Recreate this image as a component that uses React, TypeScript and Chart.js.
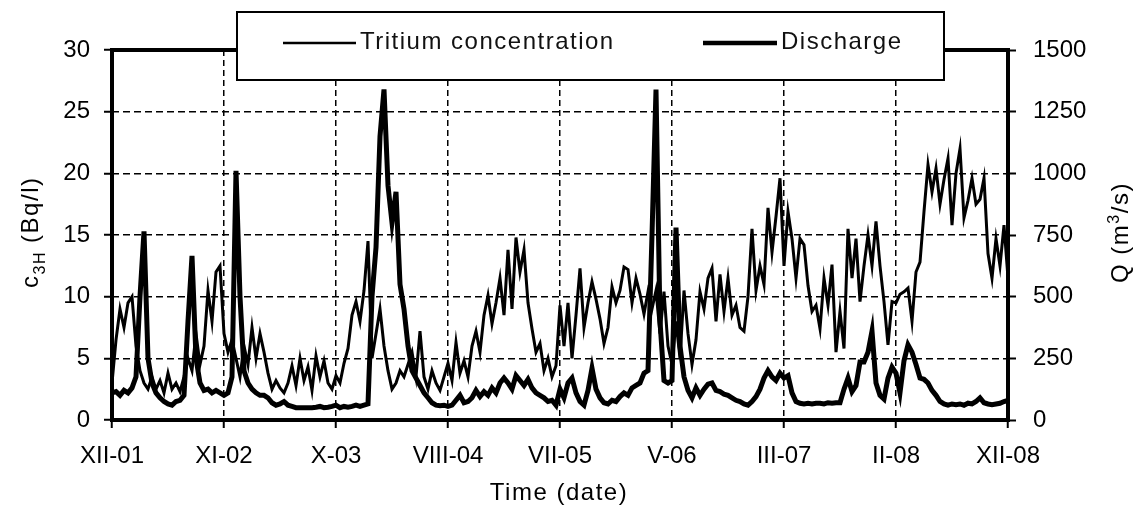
import React, { useEffect, useRef } from "react";
import { Chart, registerables } from "chart.js";

Chart.register(...registerables);

const FONT = "'Liberation Sans', Arial, Helvetica, sans-serif";

// x tick labels (one every 28 samples)
const xTickLabels = ["XII-01", "XI-02", "X-03", "VIII-04", "VII-05", "V-06", "III-07", "II-08", "XII-08"];
const samplesPerTick = 28;

// Tritium concentration (Bq/l), left axis
const tritium = [
  3, 6.5, 9, 7.5, 9.5, 10, 6, 4, 3, 2.5,
  3.5, 2.5, 3.2, 2.2, 3.8, 2.5, 3, 2.3, 3.5, 5,
  4, 7, 4.5, 6, 10.5, 8, 12, 12.5, 7, 5.5,
  6.5, 5, 3.5, 6, 4.5, 7.5, 5, 7, 5.5, 3.8,
  2.5, 3.2, 2.6, 2.2, 3, 4.4, 2.8, 5, 3.2, 4.3,
  2.4, 5.2, 3.5, 4.8, 3.0, 2.5, 3.6, 3.0, 4.6, 5.8,
  8.5, 9.6, 8.0, 10.5, 14.5, 5, 7, 9, 6, 4,
  2.5, 3, 4, 3.5, 4.5, 5.5, 3.5, 7.2, 3.5, 2.5,
  4, 3, 2.4, 3.5, 4.6, 3.2, 6.3, 3.8, 4.8, 3.5,
  6, 7.2, 5.5, 8.5, 10.1, 7.8, 9.5, 11.5, 8.5, 13.8,
  9, 14.8, 12, 13.8, 9.5, 7.4, 5.5, 6.2, 4, 5,
  3.5, 4.4, 9.3, 6, 9.5, 5, 8.5, 12.3, 7.5, 9.5,
  11.2, 9.8, 8.2, 6.2, 7.5, 10.8, 9.5, 10.5, 12.4, 12.2,
  9.5, 11.5, 10.2, 8.6, 10.4, 9, 10.5, 7, 10.4, 6,
  4.5, 8, 5, 10.5, 7, 4.5, 6.5, 10.4, 9, 11.5,
  12.3, 8, 11.8, 8.8, 11.5, 8.5, 9.3, 7.5, 7.2, 10,
  15.5, 10.5, 12.5, 11, 17.2, 13.6, 16.5, 19.6, 12.5, 16.9,
  14.7, 11.5, 14.7, 14.2, 10.9, 8.8, 9.3, 7.4, 11.5, 9.3,
  12.6, 5.5, 8.8, 5.8, 15.5, 11.5, 14.7, 9.6, 12.5, 15,
  12.5, 16.1, 12.5, 9.6, 6.1, 9.6, 9.5, 10.2, 10.4, 10.7,
  8.0, 12, 12.8, 16.9, 20.7, 18.5, 20.4, 17.5, 19.5, 21.2,
  15.8, 20, 22, 16.4, 17.8, 19.6, 17.5, 17.9, 19.6, 13.5,
  11.5, 14.7, 12.5, 15.8, 11.5,
];

// Discharge (m3/s), right axis
const discharge = [
  110, 115, 100, 120, 110, 130, 175, 500, 765, 250,
  150, 110, 90, 75, 65, 60, 75, 80, 100, 400,
  665, 250, 150, 120, 125, 110, 120, 110, 100, 110,
  175, 1010, 500, 200, 150, 125, 110, 100, 100, 90,
  70, 60, 65, 75, 60, 55, 50, 50, 50, 50,
  50, 52, 55, 50, 52, 55, 60, 50, 55, 52,
  55, 60, 55, 60, 65, 500, 700, 1150, 1340, 950,
  800, 925, 550, 450, 300, 200, 170, 140, 110, 90,
  70, 60, 58, 60, 55, 60, 80, 100, 70, 75,
  90, 120, 95, 115, 100, 130, 110, 150, 170, 150,
  125, 180, 160, 140, 165, 130, 110, 100, 90, 75,
  80, 60, 125, 90, 150, 170, 110, 75, 60, 120,
  210, 125, 90, 70, 65, 80, 75, 95, 110, 100,
  130, 140, 150, 190, 200, 750, 1340, 400, 160, 150,
  160, 780, 300, 175, 120, 90, 130, 100, 125, 145,
  150, 120, 115, 105, 100, 90, 80, 75, 65, 60,
  75, 95, 125, 170, 200, 175, 160, 190, 170, 180,
  110, 75, 68, 65, 68, 65, 68, 68, 65, 70,
  68, 70, 70, 125, 170, 115, 140, 235, 235, 275,
  360, 150, 100, 85, 170, 215, 190, 110, 240, 305,
  275, 225, 170, 165, 150, 120, 100, 75, 65, 60,
  65, 62, 65, 60, 68, 65, 75, 90, 70, 65,
  62, 65, 68, 75, 80,
];

const overlayPlugin = {
  id: "overlay",
  afterDraw(chart: any) {
    const { ctx, chartArea: a } = chart;
    ctx.save();
    ctx.lineJoin = "miter";
    ctx.lineCap = "butt";
    // plot frame
    ctx.strokeStyle = "#000";
    ctx.lineWidth = 4;
    ctx.strokeRect(a.left, a.top, a.right - a.left, a.bottom - a.top);

    // legend box
    ctx.fillStyle = "#fff";
    ctx.fillRect(237, 12, 707, 68);
    ctx.lineWidth = 2;
    ctx.strokeRect(237, 12, 707, 68);

    // legend samples
    ctx.beginPath();
    ctx.lineWidth = 2.5;
    ctx.moveTo(283, 43);
    ctx.lineTo(356, 43);
    ctx.stroke();
    ctx.beginPath();
    ctx.lineWidth = 4.5;
    ctx.moveTo(703, 43);
    ctx.lineTo(777, 43);
    ctx.stroke();

    ctx.fillStyle = "#111";
    ctx.textBaseline = "alphabetic";
    ctx.textAlign = "left";
    ctx.font = `24px ${FONT}`;
    (ctx as any).letterSpacing = "1.5px";
    ctx.fillText("Tritium concentration", 360, 49);
    ctx.fillText("Discharge", 781, 49);

    // x axis title
    ctx.fillStyle = "#000";
    ctx.textAlign = "center";
    ctx.fillText("Time (date)", 559, 500);

    // left axis title: c_3H (Bq/l)
    ctx.textAlign = "left";
    ctx.save();
    ctx.translate(38, 288);
    ctx.rotate(-Math.PI / 2);
    let x = 0;
    ctx.font = `24px ${FONT}`;
    ctx.fillText("c", x, 0);
    x += ctx.measureText("c").width;
    ctx.font = `16px ${FONT}`;
    ctx.fillText("3H", x, 7);
    x += ctx.measureText("3H").width;
    ctx.font = `24px ${FONT}`;
    ctx.fillText(" (Bq/l)", x, 0);
    ctx.restore();

    // right axis title: Q (m^3/s)
    ctx.save();
    ctx.translate(1128, 283);
    ctx.rotate(-Math.PI / 2);
    x = 0;
    ctx.font = `24px ${FONT}`;
    ctx.fillText("Q (m", x, 0);
    x += ctx.measureText("Q (m").width;
    ctx.font = `16px ${FONT}`;
    ctx.fillText("3", x, -9);
    x += ctx.measureText("3").width;
    ctx.font = `24px ${FONT}`;
    ctx.fillText("/s)", x, 0);
    ctx.restore();

    ctx.restore();
  },
};

export default function App() {
  const ref = useRef<HTMLCanvasElement | null>(null);

  useEffect(() => {
    if (!ref.current) return;
    const tickFont = { family: FONT, size: 24 };
    const chart = new Chart(ref.current, {
      type: "line",
      data: {
        datasets: [
          {
            label: "Tritium concentration",
            data: tritium.map((v, i) => ({ x: i, y: v })),
            borderColor: "#000",
            borderWidth: 3,
            pointRadius: 0,
            tension: 0,
            yAxisID: "y",
          },
          {
            label: "Discharge",
            data: discharge.map((v, i) => ({ x: i, y: v })),
            borderColor: "#000",
            borderWidth: 5,
            pointRadius: 0,
            tension: 0,
            yAxisID: "y2",
          },
        ],
      },
      options: {
        responsive: false,
        animation: false,
        layout: { padding: { top: 50, left: 0, right: 0, bottom: 0 } },
        plugins: { legend: { display: false }, tooltip: { enabled: false } },
        scales: {
          x: {
            type: "linear",
            min: 0,
            max: (xTickLabels.length - 1) * samplesPerTick,
            afterFit: (s: any) => {
              s.height = 88;
            },
            afterBuildTicks: (s: any) => {
              s.ticks = xTickLabels.map((_, k) => ({ value: k * samplesPerTick }));
            },
            ticks: {
              autoSkip: false,
              maxRotation: 0,
              padding: 14,
              color: "#000",
              font: tickFont,
              callback: (v: any) => xTickLabels[Math.round(Number(v) / samplesPerTick)] ?? "",
            },
            grid: { color: "#000", lineWidth: 1.5, tickLength: 8, tickColor: "#000", tickWidth: 2 },
            border: { display: false, dash: [6, 4] },
          },
          y: {
            position: "left",
            min: 0,
            max: 30,
            afterFit: (s: any) => {
              s.width = 112;
            },
            ticks: { stepSize: 5, padding: 14, color: "#000", font: tickFont, callback: (v: any) => String(v) },
            grid: { color: "#000", lineWidth: 1.5, tickLength: 8, tickColor: "#000", tickWidth: 2 },
            border: { display: false, dash: [7, 4] },
          },
          y2: {
            position: "right",
            min: 0,
            max: 1500,
            afterFit: (s: any) => {
              s.width = 127;
            },
            ticks: { stepSize: 250, padding: 17, color: "#000", font: tickFont, callback: (v: any) => String(v) },
            grid: { drawOnChartArea: false, tickLength: 8, tickColor: "#000", tickWidth: 2, color: "#000" },
            border: { display: false },
          },
        },
      },
      plugins: [overlayPlugin],
    });
    return () => chart.destroy();
  }, []);

  return (
    <canvas
      ref={ref}
      width={1135}
      height={508}
      style={{ position: "fixed", left: 0, top: 0, display: "block", background: "#fff" }}
    />
  );
}
